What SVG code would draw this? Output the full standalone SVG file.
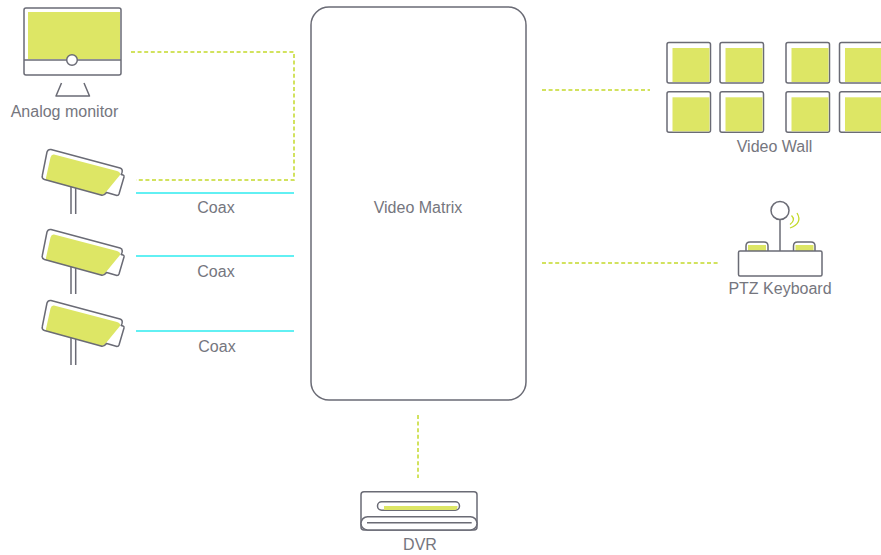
<svg xmlns="http://www.w3.org/2000/svg" width="881" height="555" viewBox="0 0 881 555">
<style>
text{font-family:"Liberation Sans",Arial,sans-serif;font-size:16px;fill:#75767e;text-anchor:middle}
.o{fill:none;stroke:#6a6b75;stroke-width:1.5;stroke-linejoin:round}
.w{fill:#fff;stroke:#6a6b75;stroke-width:1.5;stroke-linejoin:round}
.g{fill:#dde665;stroke:none}
.d{fill:none;stroke:#c3d92a;stroke-width:1.5;stroke-dasharray:4 2.600}
.c{fill:none;stroke:#2fecf0;stroke-width:1.500}
</style>
<defs>
<g id="cam">
<path class="w" d="M105 192L117 195.500Q118.500 195.500 119 194L124 177Q124.300 175.500 123 175L120 174"/>
<path class="o" d="M71 187V214M75.700 187V214"/>
<path fill="#fff" d="M51 149.500L120 168Q123 169 122 172.500Q121 175 119 178L107 192Q104 196 101 195L44.500 179.500Q41.500 178.500 42.300 175.500L47 152Q48 149 51 149.500Z"/>
<path class="g" d="M54 154.500L117 171Q121 172.500 120 175L106 192Q104 195.500 101 195L45.500 180L50.500 157.500Q51.500 154 54 154.500Z"/>
<path class="o" d="M107 192Q104 196 101 195L44.500 179.500Q41.500 178.500 42.300 175.500L47 152Q48 149 51 149.500L120 168Q123 169 122 172.500L121 175"/>
</g>
<g id="tile">
<rect class="w" x="0" y="0" width="43.500" height="40.500" rx="2"/>
<rect class="g" x="5.500" y="5.500" width="37" height="34"/>
</g>
</defs>
<g id="connectors">
<path class="d" d="M131 52H294V180H136"/>
<path class="c" d="M136 193H294M136 256H294M136 331H294"/>
<path class="d" d="M542 90H650M542 263H718M418 415V478"/>
</g>
<g id="analog-monitor">
<rect class="g" x="28" y="12" width="92" height="47"/>
<path class="o" d="M26 8H119Q121 8 121 10V73Q121 75 119 75H26Q24 75 24 73V10Q24 8 26 8Z"/>
<path class="o" d="M24 60H121"/>
<circle class="w" cx="72" cy="60" r="5.300"/>
<path class="o" d="M61.500 83L56 96H89.500L84 83"/>
<text x="64.500" y="117">Analog monitor</text>
</g>
<g id="camera-1"><use href="#cam"/></g>
<g id="camera-2"><use href="#cam" y="80"/></g>
<g id="camera-3"><use href="#cam" y="151"/></g>
<g id="coax-labels">
<text x="216" y="213">Coax</text>
<text x="216" y="277">Coax</text>
<text x="217" y="352">Coax</text>
</g>
<g id="video-matrix">
<rect class="o" x="311" y="7" width="215" height="393" rx="18"/>
<text x="418" y="213">Video Matrix</text>
</g>
<g id="video-wall">
<use href="#tile" x="667" y="42.500"/>
<use href="#tile" x="720" y="42.500"/>
<use href="#tile" x="786" y="42.500"/>
<use href="#tile" x="839.500" y="42.500"/>
<use href="#tile" x="667" y="91.800"/>
<use href="#tile" x="720" y="91.800"/>
<use href="#tile" x="786" y="91.800"/>
<use href="#tile" x="839.500" y="91.800"/>
<text x="774.500" y="152">Video Wall</text>
</g>
<g id="ptz-keyboard">
<path class="w" d="M746 251V246Q746 242 750 242H764Q768 242 768 246V251"/>
<path class="w" d="M793.500 251V246Q793.500 242 797.500 242H811Q815 242 815 246V251"/>
<rect class="g" x="748" y="245" width="18" height="6"/>
<rect class="g" x="795.500" y="245" width="18" height="6"/>
<rect class="w" x="738.500" y="251" width="83.500" height="25" rx="1.500"/>
<path class="o" d="M780 219V251"/>
<circle class="o" cx="780" cy="210.500" r="9"/>
<path d="M791.500 215.500Q796 220 790 224.500M797 213Q803 223 790 228" fill="none" stroke="#c3d92a" stroke-width="1.300"/>
<text x="780" y="294">PTZ Keyboard</text>
</g>
<g id="dvr">
<rect class="o" x="361" y="491.700" width="116" height="38.300" rx="3"/>
<rect class="w" x="361" y="516.700" width="116" height="13.300" rx="6.600"/>
<path class="o" d="M367 522.700H471.700"/>
<rect class="w" x="377.500" y="501.700" width="82" height="8.500" rx="4.200"/>
<path class="g" d="M384 506H457.500Q457.500 510 455 510H384Z"/>
<text x="420" y="550">DVR</text>
</g>
</svg>
